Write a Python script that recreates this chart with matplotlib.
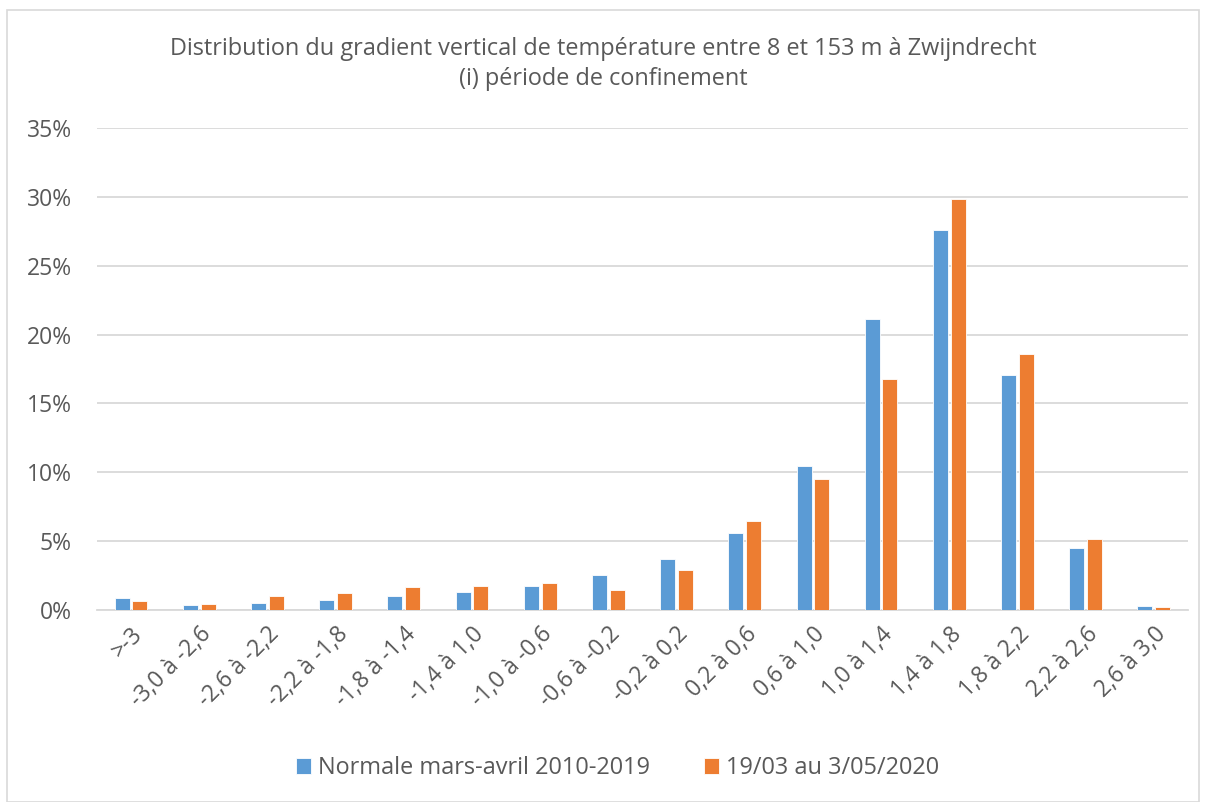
import matplotlib.pyplot as plt
import numpy as np
from matplotlib.patches import Rectangle
from matplotlib.ticker import FuncFormatter

plt.rcParams['font.family'] = ['Open Sans', 'DejaVu Sans']

categories = ['>-3', '-3,0 à -2,6', '-2,6 à -2,2', '-2,2 à -1,8', '-1,8 à -1,4',
              '-1,4 à 1,0', '-1,0 à -0,6', '-0,6 à -0,2', '-0,2 à 0,2', '0,2 à 0,6',
              '0,6 à 1,0', '1,0 à 1,4', '1,4 à 1,8', '1,8 à 2,2', '2,2 à 2,6', '2,6 à 3,0']
normale = [0.85, 0.39, 0.53, 0.75, 0.99, 1.33, 1.77, 2.56, 3.72, 5.56,
           10.44, 21.14, 27.62, 17.09, 4.47, 0.31]
confinement = [0.62, 0.46, 0.99, 1.26, 1.67, 1.74, 1.98, 1.45, 2.88, 6.48,
               9.54, 16.8, 29.83, 18.62, 5.12, 0.2]
label_normale = 'Normale mars-avril 2010-2019'
label_confinement = '19/03 au 3/05/2020'
title = 'Distribution du gradient vertical de température entre 8 et 153 m à Zwijndrecht\n(i) période de confinement'

blue = '#5B9BD5'
orange = '#ED7D31'
grey_text = '#595959'
grid_col = '#D9D9D9'

fig = plt.figure(figsize=(12.06, 8.02), dpi=100)
ax = fig.add_axes([0.0804, 0.2394, 0.9046, 0.601])

x = np.arange(len(categories))
ax.bar(x - 0.13, normale, width=0.22, color=blue, edgecolor='white', linewidth=0.6,
       label=label_normale, zorder=3)
ax.bar(x + 0.13, confinement, width=0.22, color=orange, edgecolor='white', linewidth=0.6,
       label=label_confinement, zorder=3)

ax.set_xlim(-0.5, len(categories) - 0.5)
ax.set_ylim(0, 35)
ax.set_yticks(np.arange(0, 36, 5))
ax.yaxis.set_major_formatter(FuncFormatter(lambda v, p: f'{v:.0f}%'))
ax.grid(axis='y', color=grid_col, linewidth=1.3, zorder=0)
for s in ['top', 'right', 'left']:
    ax.spines[s].set_visible(False)
ax.spines['bottom'].set_color(grid_col)
ax.spines['bottom'].set_linewidth(1.3)
ax.tick_params(axis='both', length=0, colors=grey_text, labelsize=16.5)
ax.tick_params(axis='y', pad=18)

ax.set_xticks(x)
ax.set_xticklabels(categories, rotation=45, ha='right', rotation_mode='anchor')
for lbl in ax.get_xticklabels():
    lbl.set_fontsize(16.5)
    lbl.set_color(grey_text)
ax.tick_params(axis='x', pad=9)

fig.text(0.5, 0.92, title, ha='center', va='center', fontsize=16.9, color=grey_text,
         linespacing=1.3)

leg = fig.legend(loc='center', bbox_to_anchor=(0.512, 0.042), ncol=2, frameon=False,
                 fontsize=16.9, handlelength=0.65, handleheight=0.65, handletextpad=0.3,
                 columnspacing=2.3)
for t in leg.get_texts():
    t.set_color(grey_text)

fig.patches.append(Rectangle((0.006, 0.0), 0.988, 0.988, transform=fig.transFigure,
                             fill=False, edgecolor=grid_col, linewidth=1.2))

fig.savefig('out.png', dpi=100)
